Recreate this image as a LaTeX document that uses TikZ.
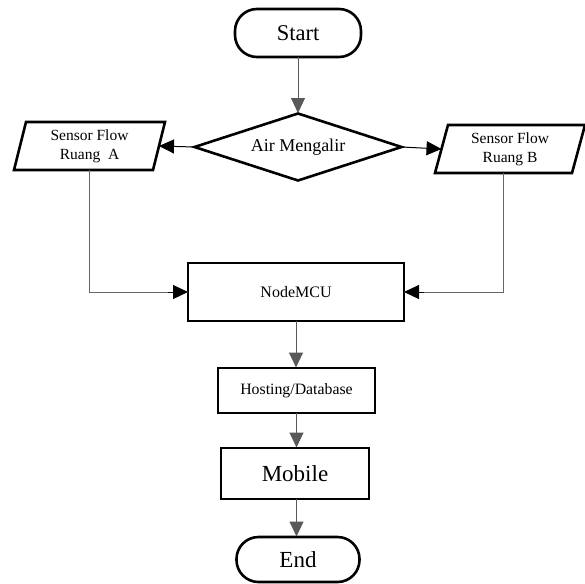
\documentclass[tikz,border=0pt]{standalone}
\usepackage{fontspec}
\setmainfont{Liberation Serif}
\usetikzlibrary{arrows.meta}
\begin{document}
\begin{tikzpicture}[x=1pt,y=-1pt,
  boxline/.style={line width=2.6pt,black},
  plain/.style={inner sep=0pt,outer sep=0pt,align=center},
  box/.style={plain,draw,boxline},
  term/.style={box,rounded corners=22pt},
  conn/.style={line width=1pt,black!65,-{Triangle[length=15pt,width=14pt]},shorten >=0.5pt},
  hconn/.style={line width=1pt,black,-{Triangle[length=15pt,width=14pt]}},
  sline/.style={line width=1pt,black!60}]
\useasboundingbox (0,0) rectangle (585,583);

\node[term,minimum width=126pt,minimum height=48pt,font=\fontsize{22.5}{26}\selectfont] (start) at (298,33) {Start};

\node[plain,minimum width=207pt,minimum height=67pt,font=\fontsize{18}{22}\selectfont] (dec) at (298,147) {Air Mengalir};
\draw[boxline,line join=miter] (dec.north) -- (dec.east) -- (dec.south) -- (dec.west) -- cycle;

\node[plain,minimum width=139pt,minimum height=48pt,font=\fontsize{15.5}{19}\selectfont] (sa) at (89.5,146) {Sensor Flow\\Ruang\ \ A};
\draw[boxline] ([xshift=-6pt]sa.south west) -- ([xshift=-6pt]sa.south east) -- ([xshift=6pt]sa.north east) -- ([xshift=6pt]sa.north west) -- cycle;

\node[plain,minimum width=137pt,minimum height=48pt,font=\fontsize{15.5}{19}\selectfont] (sb) at (510,149) {Sensor Flow\\Ruang B};
\draw[boxline] ([xshift=-6.5pt]sb.south west) -- ([xshift=-6.5pt]sb.south east) -- ([xshift=6.5pt]sb.north east) -- ([xshift=6.5pt]sb.north west) -- cycle;

\node[box,minimum width=216pt,minimum height=58pt,font=\fontsize{16}{19}\selectfont] (mcu) at (296,292) {NodeMCU};
\node[box,minimum width=157pt,minimum height=45pt,font=\fontsize{15.8}{19}\selectfont] (host) at (296.5,390.5) {Hosting/Database};
\node[box,minimum width=148pt,minimum height=51pt,font=\fontsize{23}{27}\selectfont] (mob) at (295,473.5) {Mobile};
\node[term,minimum width=123pt,minimum height=45pt,font=\fontsize{23}{27}\selectfont] (end) at (298,559.5) {End};

\draw[conn] (start.south) -- (dec.north);
\draw[hconn] (dec.west) -- (sa.east);
\draw[hconn] (dec.east) -- (sb.west);
\draw[sline] (sa.south) |- (mcu.west);
\draw[hconn] ([xshift=-20pt]mcu.west) -- (mcu.west);
\draw[sline] ([xshift=-7pt]sb.south) |- (mcu.east);
\draw[hconn] ([xshift=20pt]mcu.east) -- (mcu.east);
\draw[conn] (mcu.south) -- (mcu.south |- host.north);
\draw[conn] (host.south) -- (host.south |- mob.north);
\draw[conn] (host.south |- mob.south) -- (host.south |- end.north);
\end{tikzpicture}
\end{document}
